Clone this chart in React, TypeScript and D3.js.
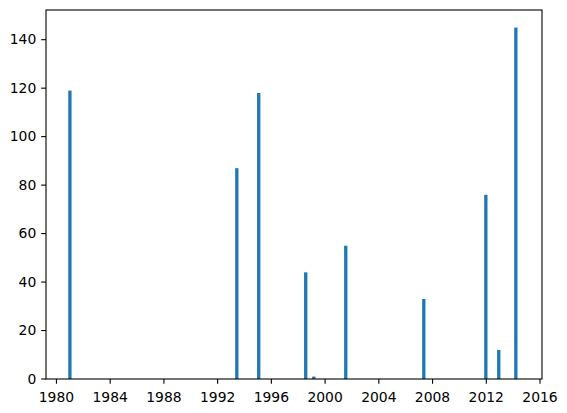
import React from "react";
import * as d3 from "d3";

const dates: string[] = [
  "1981-01-01",
  "1993-06-06",
  "1995-01-22",
  "1998-07-23",
  "1999-02-28",
  "2001-07-16",
  "2007-05-08",
  "2011-12-20",
  "2012-12-05",
  "2014-03-15",
];
const values: number[] = [119, 87, 118, 44, 1, 55, 33, 76, 12, 145];
const xTickYears: number[] = [1980, 1984, 1988, 1992, 1996, 2000, 2004, 2008, 2012, 2016];
const yTicks: number[] = [0, 20, 40, 60, 80, 100, 120, 140];

const W = 567;
const H = 413;
const left = 46;
const right = 542;
const top = 10;
const bottom = 379;
const barDays = 90;
const font = "DejaVu Sans, sans-serif";

export default function App() {
  const parse = d3.utcParse("%Y-%m-%d");
  const data = dates.map((d, i) => ({ date: parse(d) as Date, value: values[i] }));
  const x = d3
    .scaleUtc()
    .domain([new Date(Date.UTC(1979, 2, 23)), new Date(Date.UTC(2016, 1, 24))])
    .range([left, right]);
  const y = d3.scaleLinear().domain([0, 152.25]).range([bottom, top]);
  const half = (barDays / 2) * 86400000;
  const tickLen = 4.86;

  return (
    <svg
      width={W}
      height={H}
      style={{ position: "absolute", left: 0, top: 0, background: "#fff" }}
      fontFamily={font}
    >
      <rect x={0} y={0} width={W} height={H} fill="#fff" />
      {data.map((d, i) => {
        const x0 = x(new Date(d.date.getTime() - half));
        const x1 = x(new Date(d.date.getTime() + half));
        return (
          <rect
            key={i}
            x={x0}
            y={y(d.value)}
            width={x1 - x0}
            height={y(0) - y(d.value)}
            fill="#1f77b4"
          />
        );
      })}
      <rect
        x={left}
        y={top}
        width={right - left}
        height={bottom - top}
        fill="none"
        stroke="#000"
        strokeWidth={1.1}
      />
      {yTicks.map((t) => (
        <g key={"y" + t}>
          <line x1={left - tickLen} x2={left} y1={y(t)} y2={y(t)} stroke="#000" strokeWidth={1.1} />
          <text x={left - tickLen - 4.86} y={y(t) + 4.8} textAnchor="end" fontSize={13.9} fill="#000">
            {t}
          </text>
        </g>
      ))}
      {xTickYears.map((yr) => {
        const px = x(new Date(Date.UTC(yr, 0, 1)));
        return (
          <g key={"x" + yr}>
            <line x1={px} x2={px} y1={bottom} y2={bottom + tickLen} stroke="#000" strokeWidth={1.1} />
            <text x={px} y={402} textAnchor="middle" fontSize={13.9} fill="#000">
              {yr}
            </text>
          </g>
        );
      })}
    </svg>
  );
}
